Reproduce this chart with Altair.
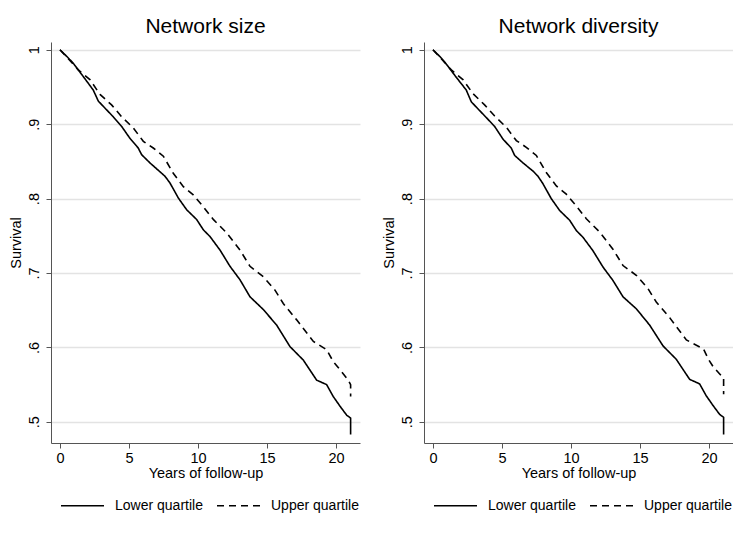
import altair as alt
import pandas as pd

# ---- data ----
groups = ["Lower quartile", "Upper quartile"]
titles = ["Network size", "Network diversity"]

size_lower_t = [0.0, 0.5, 0.96, 1.69, 2.41, 2.78, 3.14, 3.86, 4.47, 5.07, 5.67, 5.92, 6.52, 7.25, 7.61, 7.97,
                8.57, 9.18, 9.9, 10.39, 10.87, 11.59, 12.32, 13.04, 13.77, 14.73, 15.7, 16.67, 17.63, 18.6,
                19.32, 19.8, 20.29, 20.77, 21.06, 21.06]
size_lower_s = [1.0, 0.991, 0.982, 0.964, 0.946, 0.931, 0.924, 0.910, 0.897, 0.881, 0.868, 0.859, 0.848, 0.836,
                0.830, 0.821, 0.801, 0.785, 0.772, 0.758, 0.749, 0.731, 0.709, 0.691, 0.668, 0.651, 0.630, 0.601,
                0.583, 0.556, 0.550, 0.534, 0.521, 0.509, 0.505, 0.483]
size_upper_t = [0.0, 0.6, 1.33, 2.17, 2.9, 3.74, 4.47, 5.31, 6.04, 6.76, 7.49, 8.21, 8.94, 9.66, 10.39, 11.11,
                12.08, 13.04, 13.77, 14.73, 15.58, 16.18, 17.15, 18.36, 19.32, 19.8, 20.29, 20.89, 21.06, 21.06]
size_upper_s = [1.0, 0.988, 0.973, 0.960, 0.940, 0.926, 0.910, 0.895, 0.877, 0.868, 0.857, 0.834, 0.816, 0.805,
                0.789, 0.772, 0.754, 0.731, 0.709, 0.695, 0.677, 0.659, 0.637, 0.608, 0.597, 0.581, 0.570, 0.556,
                0.550, 0.534]

div_lower_t = [0.0, 0.5, 0.96, 1.69, 2.41, 2.78, 3.14, 3.86, 4.47, 5.07, 5.67, 5.92, 6.52, 7.25, 7.61, 7.97,
               8.57, 9.18, 9.9, 10.39, 10.87, 11.59, 12.32, 13.04, 13.77, 14.73, 15.7, 16.67, 17.63, 18.6,
               19.32, 19.8, 20.29, 20.77, 21.06, 21.06]
div_lower_s = [1.0, 0.991, 0.981, 0.963, 0.946, 0.930, 0.923, 0.909, 0.897, 0.880, 0.868, 0.858, 0.848, 0.837,
               0.830, 0.820, 0.800, 0.784, 0.771, 0.757, 0.748, 0.730, 0.708, 0.690, 0.668, 0.652, 0.630, 0.602,
               0.584, 0.557, 0.551, 0.535, 0.522, 0.510, 0.506, 0.483]
div_upper_t = [0.0, 0.6, 1.33, 2.17, 2.9, 3.74, 4.47, 5.31, 6.04, 6.76, 7.49, 8.21, 8.94, 9.66, 10.39, 11.11,
               12.08, 13.04, 13.77, 14.73, 15.58, 16.18, 17.15, 18.36, 19.6, 19.96, 20.3, 20.89, 21.06, 21.06]
div_upper_s = [1.0, 0.988, 0.973, 0.960, 0.941, 0.926, 0.911, 0.896, 0.878, 0.869, 0.858, 0.835, 0.817, 0.806,
               0.790, 0.773, 0.755, 0.732, 0.710, 0.697, 0.679, 0.661, 0.640, 0.610, 0.598, 0.584, 0.574, 0.562,
               0.559, 0.537]

x_ticks = [0, 5, 10, 15, 20]
y_ticks = [0.5, 0.6, 0.7, 0.8, 0.9, 1.0]

FONT = "Liberation Sans"


def make_df(lt, ls, ut, us):
    rows = []
    for i, (t, s) in enumerate(zip(lt, ls)):
        rows.append({"t": t, "s": s, "group": groups[0], "i": i})
    for i, (t, s) in enumerate(zip(ut, us)):
        rows.append({"t": t, "s": s, "group": groups[1], "i": i})
    return pd.DataFrame(rows)


def panel(title, df):
    return (
        alt.Chart(df, title=alt.TitleParams(title, fontSize=21, fontWeight="normal", color="black",
                                            font=FONT, offset=5))
        .mark_line(color="black", strokeWidth=1.6)
        .encode(
            x=alt.X("t:Q",
                    scale=alt.Scale(domain=[-0.65, 21.74], nice=False, zero=False),
                    axis=alt.Axis(values=x_ticks, title="Years of follow-up", grid=False,
                                  labelFontSize=14.5, titleFontSize=14.5, titleFontWeight="normal",
                                  tickSize=5, labelPadding=3, titlePadding=2,
                                  domainColor="#555555", tickColor="#555555",
                                  labelColor="black", titleColor="black")),
            y=alt.Y("s:Q",
                    scale=alt.Scale(domain=[0.4715, 1.0105], nice=False, zero=False),
                    axis=alt.Axis(values=y_ticks, title="Survival", grid=True, gridColor="#e3e3e3",
                                  gridWidth=1.5, labelAngle=270, labelFontSize=14.5, titleFontSize=14.5,
                                  titleFontWeight="normal", tickSize=5, labelPadding=5, titlePadding=3,
                                  domainColor="#555555", tickColor="#555555",
                                  labelColor="black", titleColor="black",
                                  labelExpr="datum.value == 1 ? '1' : replace(format(datum.value, '.1f'), '0.', '.')")),
            strokeDash=alt.StrokeDash(
                "group:N",
                scale=alt.Scale(domain=groups, range=[[1, 0], [7, 5]]),
                legend=alt.Legend(title=None, orient="none", legendX=9, legendY=441,
                                  direction="horizontal", symbolType="stroke", symbolSize=1849,
                                  symbolStrokeWidth=1.5, symbolStrokeColor="black",
                                  labelFontSize=14, labelColor="black", labelOffset=10,
                                  columnPadding=11)),
            order=alt.Order("i:Q"),
        )
        .properties(width=309, height=401)
    )


p1 = panel(titles[0], make_df(size_lower_t, size_lower_s, size_upper_t, size_upper_s))
p2 = panel(titles[1], make_df(div_lower_t, div_lower_s, div_upper_t, div_upper_s))

chart = (
    alt.hconcat(p1, p2, spacing=21)
    .resolve_scale(strokeDash="independent")
    .resolve_legend(strokeDash="independent")
    .configure(font=FONT, padding={"left": 0, "top": 8, "right": 0, "bottom": 0})
    .configure_view(stroke=None)
)

chart.save("out.html", embed_options={"renderer": "svg", "actions": False})
